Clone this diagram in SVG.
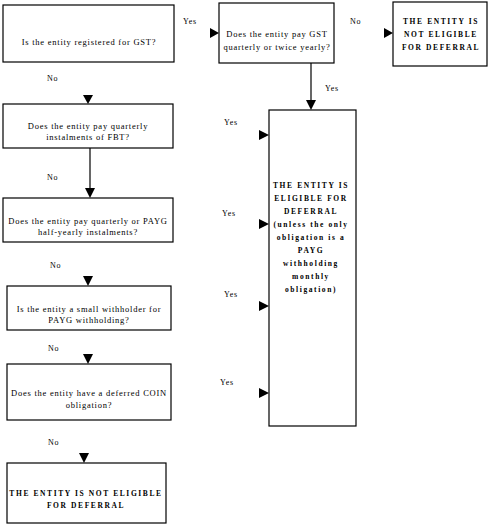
<svg xmlns="http://www.w3.org/2000/svg" width="490" height="525" viewBox="0 0 490 525">
<style>
.box{fill:#fff;stroke:#000;stroke-width:1.2}
.t{font-family:"Liberation Serif","Times New Roman",serif;font-size:8.5px;letter-spacing:0.75px;fill:#000;text-anchor:middle}
.l{font-family:"Liberation Serif","Times New Roman",serif;font-size:8px;letter-spacing:0.7px;fill:#000}
.b{font-family:"Liberation Serif","Times New Roman",serif;font-size:7.5px;font-weight:bold;letter-spacing:1.6px;fill:#000;text-anchor:middle}
.ah{fill:#000}
.ln{stroke:#000;stroke-width:1.2;fill:none}
</style>
<rect width="490" height="525" fill="#fff"/>
<g id="n1"><rect class="box" x="3" y="5" width="171" height="57"/><text class="t" x="89" y="45">Is the entity registered for GST?</text></g>
<g id="n2"><rect class="box" x="219" y="3" width="115" height="60"/><text class="t" x="277" y="37">Does the entity pay GST</text><text class="t" x="277" y="50">quarterly or twice yearly?</text></g>
<g id="n3"><rect class="box" x="393" y="2" width="94" height="64"/><text class="b" x="441" y="24">THE ENTITY IS</text><text class="b" x="441" y="37">NOT ELIGIBLE</text><text class="b" x="441" y="50">FOR DEFERRAL</text></g>
<g id="n4"><rect class="box" x="269" y="110" width="87" height="316"/>
<text class="b" x="311" y="188">THE ENTITY IS</text>
<text class="b" x="311" y="201">ELIGIBLE FOR</text>
<text class="b" x="311" y="214">DEFERRAL</text>
<text class="b" x="311" y="227">(unless the only</text>
<text class="b" x="311" y="240">obligation is a</text>
<text class="b" x="311" y="253">PAYG</text>
<text class="b" x="311" y="266">withholding</text>
<text class="b" x="311" y="279">monthly</text>
<text class="b" x="311" y="292">obligation)</text>
</g>
<g id="n5"><rect class="box" x="3" y="104" width="170" height="44"/><text class="t" x="88" y="129">Does the entity pay quarterly</text><text class="t" x="88" y="140">instalments of FBT?</text></g>
<g id="n6"><rect class="box" x="3" y="198" width="170" height="44"/><text class="t" x="88" y="224">Does the entity pay quarterly or PAYG</text><text class="t" x="88" y="235">half-yearly instalments?</text></g>
<g id="n7"><rect class="box" x="7" y="286" width="164" height="44"/><text class="t" x="89" y="312">Is the entity a small withholder for</text><text class="t" x="89" y="323">PAYG withholding?</text></g>
<g id="n8"><rect class="box" x="7" y="364" width="164" height="56"/><text class="t" x="89" y="396">Does the entity have a deferred COIN</text><text class="t" x="89" y="408">obligation?</text></g>
<g id="n9"><rect class="box" x="7" y="463" width="159" height="60"/><text class="b" x="86" y="496">THE ENTITY IS NOT ELIGIBLE</text><text class="b" x="86" y="508">FOR DEFERRAL</text></g>
<g id="connectors">
<line class="ln" x1="311" y1="63" x2="311" y2="102"/>
<line class="ln" x1="90" y1="148" x2="90" y2="190"/>
<polygon class="ah" points="210,28 219,33 210,38"/>
<polygon class="ah" points="384,28 393,33 384,38"/>
<polygon class="ah" points="306,100 316,100 311,110"/>
<polygon class="ah" points="83,95 93,95 88,104"/>
<polygon class="ah" points="85,188 95,188 90,198"/>
<polygon class="ah" points="83,276 93,276 88,286"/>
<polygon class="ah" points="83,354 93,354 88,364"/>
<polygon class="ah" points="79,453 89,453 84,463"/>
<polygon class="ah" points="259,130 269,135 259,140"/>
<polygon class="ah" points="259,219 269,224 259,229"/>
<polygon class="ah" points="259,301 269,306 259,311"/>
<polygon class="ah" points="259,388 269,393 259,398"/>
<text class="l" x="183" y="24">Yes</text>
<text class="l" x="350" y="24">No</text>
<text class="l" x="325" y="91">Yes</text>
<text class="l" x="224" y="125">Yes</text>
<text class="l" x="222" y="216">Yes</text>
<text class="l" x="224" y="297">Yes</text>
<text class="l" x="220" y="385">Yes</text>
<text class="l" x="47" y="81">No</text>
<text class="l" x="47" y="180">No</text>
<text class="l" x="50" y="268">No</text>
<text class="l" x="48" y="351">No</text>
<text class="l" x="48" y="445">No</text>
</g>
</svg>
